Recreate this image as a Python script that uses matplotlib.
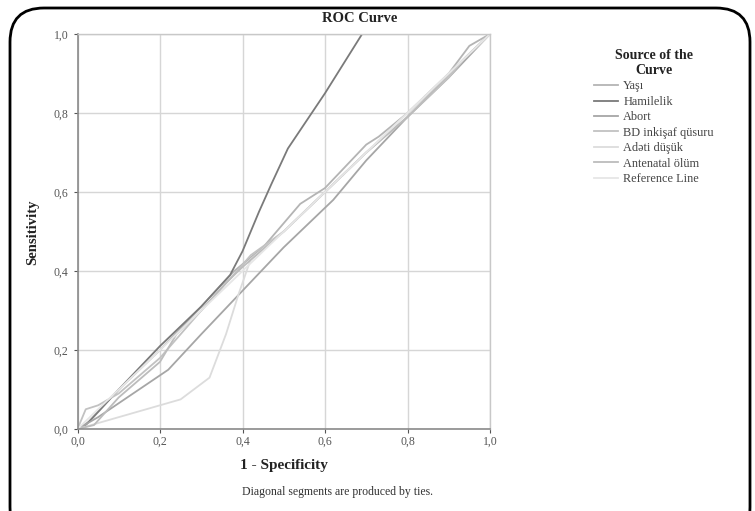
import matplotlib
matplotlib.use("Agg")
import matplotlib.pyplot as plt
from matplotlib.patches import FancyBboxPatch
from matplotlib.ticker import FuncFormatter

# ---- data ----
series_names = ["Yaşı", "Hamilelik", "Abort", "BD inkişaf qüsuru",
                "Adəti düşük", "Antenatal ölüm", "Reference Line"]

yasi_x = [0, 0.03, 0.1, 0.2, 0.3, 0.38, 0.45, 0.54, 0.6, 0.7, 0.73, 0.8, 0.9, 0.95, 1]
yasi_y = [0, 0.02, 0.1, 0.2, 0.31, 0.40, 0.46, 0.57, 0.61, 0.72, 0.74, 0.80, 0.9, 0.97, 1]

hamilelik_x = [0, 0.02, 0.1, 0.2, 0.3, 0.37, 0.40, 0.44, 0.47, 0.51, 0.60, 0.69, 1]
hamilelik_y = [0, 0.01, 0.1, 0.21, 0.31, 0.39, 0.45, 0.55, 0.62, 0.71, 0.85, 1.0, 1]

abort_x = [0, 0.05, 0.22, 0.30, 0.40, 0.50, 0.62, 0.70, 0.80, 0.90, 1]
abort_y = [0, 0.03, 0.15, 0.24, 0.35, 0.46, 0.58, 0.68, 0.79, 0.89, 1]

bd_x = [0, 0.02, 0.05, 0.1, 0.2, 0.3, 0.37, 0.42, 0.5, 0.55, 0.6, 0.7, 0.8, 0.9, 0.94, 1]
bd_y = [0, 0.05, 0.06, 0.09, 0.18, 0.30, 0.38, 0.44, 0.50, 0.55, 0.60, 0.70, 0.79, 0.89, 0.94, 1]

adeti_x = [0, 0.1, 0.2, 0.25, 0.32, 0.36, 0.39, 0.42, 0.5, 0.6, 0.7, 0.8, 0.9, 1]
adeti_y = [0, 0.03, 0.06, 0.075, 0.13, 0.24, 0.34, 0.43, 0.5, 0.6, 0.7, 0.8, 0.9, 1]

antenatal_x = [0, 0.04, 0.1, 0.2, 0.24, 0.3, 0.36, 0.4, 0.5, 0.6, 0.7, 0.8, 0.93, 1]
antenatal_y = [0, 0.01, 0.08, 0.17, 0.24, 0.30, 0.37, 0.41, 0.50, 0.60, 0.70, 0.79, 0.93, 1]

ref_x = [0, 1]
ref_y = [0, 1]

xs = [yasi_x, hamilelik_x, abort_x, bd_x, adeti_x, antenatal_x, ref_x]
ys = [yasi_y, hamilelik_y, abort_y, bd_y, adeti_y, antenatal_y, ref_y]
colors = ["#b4b4b4", "#7a7a7a", "#a6a6a6", "#c2c2c2", "#dcdcdc", "#bcbcbc", "#e6e6e6"]

ticks = [0.0, 0.2, 0.4, 0.6, 0.8, 1.0]

plt.rcParams['font.family'] = ['Liberation Serif', 'DejaVu Serif']

W, H = 755, 511
fig = plt.figure(figsize=(W / 100, H / 100), dpi=100)

# rounded frame
frame = FancyBboxPatch((10 / W, -30 / H), 740 / W, (H - 8 + 30) / H,
                       boxstyle="round,pad=0,rounding_size=0.045",
                       transform=fig.transFigure, fill=False,
                       edgecolor="black", linewidth=2.0, mutation_aspect=W / H)
fig.patches.append(frame)

ax = fig.add_axes([77.5 / W, 1 - 429 / H, 412.5 / W, 395 / H])
ax.set_xlim(0, 1)
ax.set_ylim(0, 1)

for x, y, c, n in zip(xs, ys, colors, series_names):
    ax.plot(x, y, color=c, linewidth=1.3, label=n)

ax.set_xticks(ticks)
ax.set_yticks(ticks)
fmt = FuncFormatter(lambda v, p: f"{v:.1f}".replace(".", ","))
ax.xaxis.set_major_formatter(fmt)
ax.yaxis.set_major_formatter(fmt)
ax.tick_params(labelsize=8.5, colors="#555555", length=3, width=0.8)
ax.tick_params(axis='x', pad=2)
ax.grid(True, color="#d6d6d6", linewidth=1.0)
ax.set_axisbelow(True)
for s in ["left", "bottom"]:
    ax.spines[s].set_color("#8a8a8a")
    ax.spines[s].set_linewidth(1.2)
for s in ["top", "right"]:
    ax.spines[s].set_color("#c8c8c8")
    ax.spines[s].set_linewidth(1.0)

fig.text(360 / W, 1 - 18 / H, "ROC Curve", ha="center", va="center",
         fontsize=10.5, fontweight="bold", color="#222222")
fig.text(284 / W, 1 - 466 / H, "1 - Specificity", ha="center", va="center",
         fontsize=11, fontweight="bold", color="#222222")
fig.text(33 / W, 1 - 232 / H, "Sensitivity", ha="center", va="center",
         rotation=90, fontsize=10.5, fontweight="bold", color="#222222")
fig.text(338 / W, 1 - 492 / H, "Diagonal segments are produced by ties.",
         ha="center", va="center", fontsize=8.5, color="#333333")

handles, labels = ax.get_legend_handles_labels()
leg = fig.legend(handles, labels, loc="upper left",
                 bbox_to_anchor=(583 / W, 1 - 38 / H),
                 frameon=False, fontsize=8.8, handlelength=2.0,
                 handletextpad=0.4, labelspacing=0.28,
                 alignment="center",
                 title="Source of the\nCurve",
                 title_fontproperties={"weight": "bold", "size": 10})
for t in leg.get_texts():
    t.set_color("#444444")
leg.get_title().set_color("#222222")
leg.get_title().set_multialignment("center")

fig.savefig("out.png", dpi=100)
